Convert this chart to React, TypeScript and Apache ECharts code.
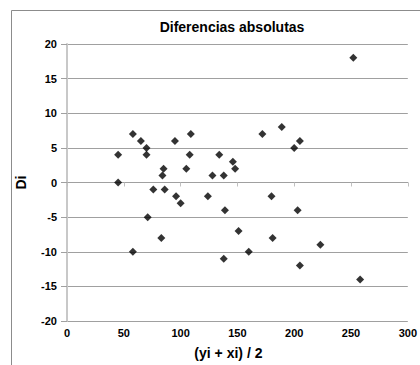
import { useEffect, useRef } from "react";
import * as echarts from "echarts";

// (yi + xi) / 2
const meanValues = [
  45, 45, 58, 65, 70, 70, 58, 71, 76, 86, 85, 84, 83, 95, 96, 100, 105, 109, 108, 124,
  128, 134, 138, 139, 138, 146, 148, 151, 160, 172, 180, 181, 189, 200, 205, 203, 205, 223, 252, 258,
];
// Di
const diffValues = [
  4, 0, 7, 6, 5, 4, -10, -5, -1, -1, 2, 1, -8, 6, -2, -3, 2, 7, 4, -2,
  1, 4, 1, -4, -11, 3, 2, -7, -10, 7, -2, -8, 8, 5, 6, -4, -12, -9, 18, -14,
];

const titleText = "Diferencias absolutas";
const xAxisName = "(yi + xi) / 2";
const yAxisName = "Di";

const FONT = "'Liberation Sans', Arial, sans-serif";

export default function App() {
  const ref = useRef<HTMLDivElement>(null);

  useEffect(() => {
    document.body.style.margin = "0";
    if (!ref.current) return;
    const chart = echarts.init(ref.current, null, { renderer: "svg" });
    const points = meanValues.map((x, i) => [x, diffValues[i]]);
    chart.setOption({
      animation: false,
      backgroundColor: "#ffffff",
      grid: { left: 67, right: 11, top: 44, bottom: 40, containLabel: false },
      graphic: [
        {
          type: "rect",
          z: -10,
          shape: { x: 11.5, y: 10.5, width: 430, height: 400 },
          style: { fill: "none", stroke: "#8c8c8c", lineWidth: 1 },
        },
        {
          type: "text",
          x: 232,
          y: 27,
          style: {
            text: titleText,
            textAlign: "center",
            textVerticalAlign: "middle",
            fontFamily: FONT,
            fontSize: 14,
            fontWeight: "bold",
            fill: "#000",
          },
        },
      ],
      xAxis: [
        {
          type: "value",
          min: 0,
          max: 300,
          interval: 50,
          position: "bottom",
          axisLine: { show: false, onZero: false },
          axisTick: { show: false },
          splitLine: { show: false },
          axisLabel: {
            color: "#000",
            fontSize: 11,
            fontWeight: "bold",
            fontFamily: FONT,
            margin: 6,
          },
          name: xAxisName,
          nameLocation: "middle",
          nameGap: 25,
          nameTextStyle: {
            color: "#000",
            fontSize: 14,
            fontWeight: "bold",
            fontFamily: FONT,
            padding: [0, 18, 0, 0],
          },
        },
        {
          type: "value",
          min: 0,
          max: 300,
          interval: 50,
          position: "top",
          axisLine: { show: true, onZero: true, lineStyle: { color: "#a0a0a0", width: 1 } },
          axisTick: { show: true, inside: true, length: 4, lineStyle: { color: "#c0c0c0" } },
          axisLabel: { show: false },
          splitLine: { show: false },
        },
      ],
      yAxis: {
        type: "value",
        min: -20,
        max: 20,
        interval: 5,
        axisLine: { show: true, onZero: false, lineStyle: { color: "#c8c8c8", width: 2 } },
        axisTick: { show: true, length: 6, lineStyle: { color: "#a0a0a0" } },
        splitLine: { show: true, lineStyle: { color: "#a0a0a0", width: 1 } },
        axisLabel: {
          color: "#000",
          fontSize: 11,
          fontWeight: "bold",
          fontFamily: FONT,
          margin: 10,
        },
        name: yAxisName,
        nameLocation: "middle",
        nameGap: 39,
        nameTextStyle: { color: "#000", fontSize: 14, fontWeight: "bold", fontFamily: FONT },
      },
      series: [
        {
          type: "scatter",
          xAxisIndex: 0,
          yAxisIndex: 0,
          symbol: "diamond",
          symbolSize: 8,
          itemStyle: { color: "#000" },
          data: points,
        },
      ],
    });
    return () => chart.dispose();
  }, []);

  return <div ref={ref} style={{ width: 420, height: 365 }} />;
}
